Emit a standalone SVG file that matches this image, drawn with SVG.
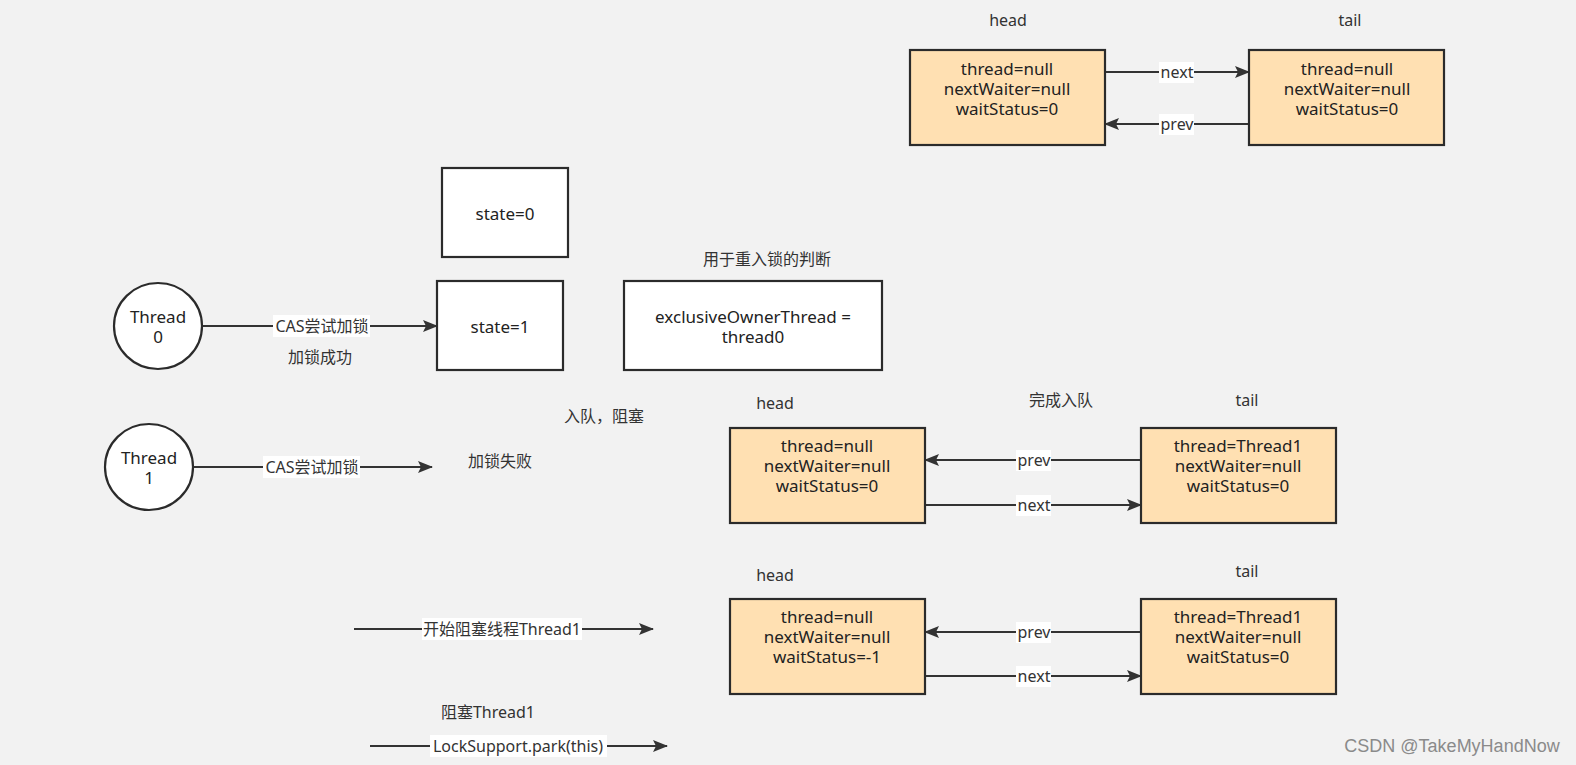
<svg xmlns="http://www.w3.org/2000/svg" width="1576" height="765" viewBox="0 0 1576 765">
<style>
text{font-family:"Noto Sans","Noto Sans CJK SC",sans-serif;font-size:16px;fill:#333;text-anchor:middle;dominant-baseline:central}
.box{fill:#fff;stroke:#2b2b2b;stroke-width:2.2}
.node{fill:#ffe0b2;stroke:#2b2b2b;stroke-width:2.2}
.edge{stroke:#333;stroke-width:2.2;fill:none;marker-end:url(#ah)}
.lb{fill:#fff}
.t{font-size:17px;fill:#222}
.wm{font-family:"Liberation Sans",sans-serif;font-size:18px;fill:#8a8a8a}
</style>
<defs>
<marker id="ah" markerUnits="userSpaceOnUse" markerWidth="16" markerHeight="12" refX="14" refY="6" orient="auto">
<path d="M0,0 L15,6 L0,12 L3,6 z" fill="#333"/>
</marker>
</defs>
<rect width="1576" height="765" fill="#f2f2f2"/>

<g id="connectors">
<line class="edge" x1="1105" y1="72" x2="1249" y2="72"/>
<line class="edge" x1="1249" y1="124" x2="1105" y2="124"/>
<line class="edge" x1="202" y1="326" x2="437" y2="326"/>
<line class="edge" x1="193" y1="467" x2="432" y2="467"/>
<line class="edge" x1="1141" y1="460" x2="925" y2="460"/>
<line class="edge" x1="925" y1="505" x2="1141" y2="505"/>
<line class="edge" x1="1141" y1="632" x2="925" y2="632"/>
<line class="edge" x1="925" y1="676" x2="1141" y2="676"/>
<line class="edge" x1="354" y1="629" x2="653" y2="629"/>
<line class="edge" x1="370" y1="746" x2="667" y2="746"/>
<rect class="lb" x="1159" y="62" width="35" height="21"/><text x="1177" y="72">next</text>
<rect class="lb" x="1159" y="114" width="35" height="21"/><text x="1177" y="124">prev</text>
<rect class="lb" x="273" y="315" width="97" height="22"/><text x="322" y="326">CAS尝试加锁</text>
<rect class="lb" x="263" y="456" width="97" height="22"/><text x="312" y="467">CAS尝试加锁</text>
<rect class="lb" x="1016" y="450" width="35" height="21"/><text x="1034" y="460">prev</text>
<rect class="lb" x="1016" y="495" width="35" height="21"/><text x="1034" y="505">next</text>
<rect class="lb" x="1016" y="622" width="35" height="21"/><text x="1034" y="632">prev</text>
<rect class="lb" x="1016" y="666" width="35" height="21"/><text x="1034" y="676">next</text>
<rect class="lb" x="422" y="618" width="160" height="22"/><text x="502" y="629">开始阻塞线程Thread1</text>
<rect class="lb" x="430" y="735" width="177" height="22"/><text x="518" y="746">LockSupport.park(this)</text>
</g>

<g id="head-top">
<text x="1008" y="20">head</text>
<rect class="node" x="910" y="50" width="195" height="95"/>
<text class="t" x="1007" y="68">thread=null</text>
<text class="t" x="1007" y="88">nextWaiter=null</text>
<text class="t" x="1007" y="108">waitStatus=0</text>
</g>
<g id="tail-top">
<text x="1350" y="20">tail</text>
<rect class="node" x="1249" y="50" width="195" height="95"/>
<text class="t" x="1347" y="68">thread=null</text>
<text class="t" x="1347" y="88">nextWaiter=null</text>
<text class="t" x="1347" y="108">waitStatus=0</text>
</g>

<g id="state0">
<rect class="box" x="442" y="168" width="126" height="89"/>
<text class="t" x="505" y="213">state=0</text>
</g>
<g id="state1">
<rect class="box" x="437" y="281" width="126" height="89"/>
<text class="t" x="500" y="326">state=1</text>
</g>
<g id="owner">
<text x="767" y="259">用于重入锁的判断</text>
<rect class="box" x="624" y="281" width="258" height="89"/>
<text class="t" x="753" y="316">exclusiveOwnerThread =</text>
<text class="t" x="753" y="336">thread0</text>
</g>

<g id="thread0">
<ellipse class="box" cx="158" cy="326" rx="44" ry="43"/>
<text class="t" x="158" y="316">Thread</text>
<text class="t" x="158" y="336">0</text>
</g>
<text x="320" y="357">加锁成功</text>

<g id="thread1">
<ellipse class="box" cx="149" cy="467" rx="44" ry="43"/>
<text class="t" x="149" y="457">Thread</text>
<text class="t" x="149" y="477">1</text>
</g>
<text x="500" y="461">加锁失败</text>
<text x="604" y="416">入队，阻塞</text>

<g id="head-mid">
<text x="775" y="403">head</text>
<rect class="node" x="730" y="428" width="195" height="95"/>
<text class="t" x="827" y="445">thread=null</text>
<text class="t" x="827" y="465">nextWaiter=null</text>
<text class="t" x="827" y="485">waitStatus=0</text>
</g>
<text x="1061" y="400">完成入队</text>
<g id="tail-mid">
<text x="1247" y="400">tail</text>
<rect class="node" x="1141" y="428" width="195" height="95"/>
<text class="t" x="1238" y="445">thread=Thread1</text>
<text class="t" x="1238" y="465">nextWaiter=null</text>
<text class="t" x="1238" y="485">waitStatus=0</text>
</g>

<g id="head-bot">
<text x="775" y="575">head</text>
<rect class="node" x="730" y="599" width="195" height="95"/>
<text class="t" x="827" y="616">thread=null</text>
<text class="t" x="827" y="636">nextWaiter=null</text>
<text class="t" x="827" y="656">waitStatus=-1</text>
</g>
<g id="tail-bot">
<text x="1247" y="571">tail</text>
<rect class="node" x="1141" y="599" width="195" height="95"/>
<text class="t" x="1238" y="616">thread=Thread1</text>
<text class="t" x="1238" y="636">nextWaiter=null</text>
<text class="t" x="1238" y="656">waitStatus=0</text>
</g>

<text x="488" y="712">阻塞Thread1</text>
<text class="wm" x="1452" y="746">CSDN @TakeMyHandNow</text>
</svg>
